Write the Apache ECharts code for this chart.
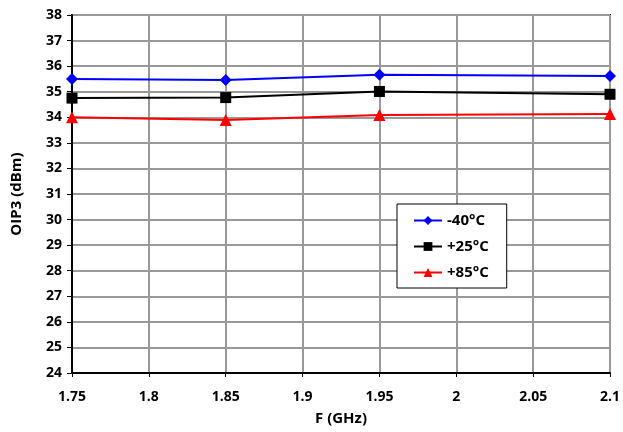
<!DOCTYPE html>
<html>
<head>
<meta charset="utf-8">
<script src="https://cdn.jsdelivr.net/npm/echarts@6/dist/echarts.min.js"></script>
<style>html,body{margin:0;padding:0;background:#fff}#c{width:623px;height:432px}</style>
</head>
<body>
<div id="c"></div>
<script>
var freqs = [1.75, 1.85, 1.95, 2.1];
var seriesNames = ['-40°C', '+25°C', '+85°C'];
var valsM40 = [35.5, 35.46, 35.66, 35.61];
var valsP25 = [34.75, 34.77, 35.01, 34.9];
var valsP85 = [34.0, 33.89, 34.09, 34.13];
var colors = ['#0000ff', '#000000', '#ff0000'];
var symbols = ['diamond', 'rect', 'triangle'];
var allVals = [valsM40, valsP25, valsP85];

var font = '"Open Sans", "DejaVu Sans", sans-serif';
var chart = echarts.init(document.getElementById('c'));
var series = allVals.map(function (v, i) {
  return {
    name: seriesNames[i],
    type: 'line',
    data: freqs.map(function (f, j) { return [f, v[j]]; }),
    symbol: symbols[i],
    symbolSize: i === 1 ? 11 : 12,
    lineStyle: { color: colors[i], width: 2 },
    itemStyle: { color: colors[i] },
    z: 10 - i
  };
});
chart.setOption({
  animation: false,
  backgroundColor: '#fff',
  grid: { left: 72, right: 11, top: 15, bottom: 59, show: true, borderColor: '#000', borderWidth: 2, containLabel: false },
  legend: {
    orient: 'vertical',
    left: 397, top: 204,
    padding: [9, 18, 8, 16],
    itemGap: 11,
    itemWidth: 28, itemHeight: 11,
    borderColor: '#000', borderWidth: 1,
    backgroundColor: '#fff',
    textStyle: { fontFamily: font, fontWeight: 'bold', fontSize: 15, color: '#000' },
    data: seriesNames
  },
  xAxis: {
    type: 'value', min: 1.75, max: 2.1, interval: 0.05,
    name: 'F (GHz)', nameLocation: 'middle', nameGap: 38,
    nameTextStyle: { fontFamily: font, fontWeight: 'bold', fontSize: 15, color: '#000' },
    axisLine: { lineStyle: { color: '#000', width: 2 } },
    axisTick: { show: true, length: 4, lineStyle: { color: '#000' } },
    axisLabel: { margin: 17, fontFamily: font, fontWeight: 'bold', fontSize: 14, color: '#000',
      formatter: function (v) { return String(parseFloat(v.toFixed(2))); } },
    splitLine: { show: true, lineStyle: { color: '#999', width: 2 } }
  },
  yAxis: {
    type: 'value', min: 24, max: 38, interval: 1,
    name: 'OIP3 (dBm)', nameLocation: 'middle', nameGap: 48, nameRotate: 90,
    nameTextStyle: { fontFamily: font, fontWeight: 'bold', fontSize: 15, color: '#000' },
    axisLine: { lineStyle: { color: '#000', width: 2 } },
    axisTick: { show: true, length: 5, lineStyle: { color: '#000' } },
    axisLabel: { margin: 10, fontFamily: font, fontWeight: 'bold', fontSize: 14, color: '#000' },
    splitLine: { show: true, lineStyle: { color: '#999', width: 2 } }
  },
  series: series
});
</script>
</body>
</html>
